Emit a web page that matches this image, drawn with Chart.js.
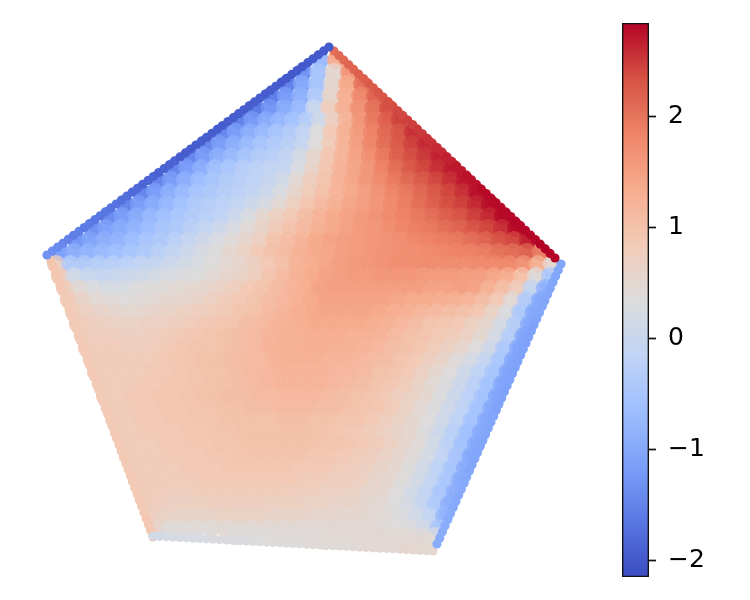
<!DOCTYPE html>
<html>
<head>
<meta charset="utf-8">
<script src="https://cdn.jsdelivr.net/npm/chart.js@4"></script>
<style>
  body { margin: 0; background: #fff; }
  canvas { position: absolute; top: 0; }
</style>
</head>
<body>
<canvas id="field" width="750" height="600" style="left:0"></canvas>
<canvas id="bar" width="150" height="600" style="left:600px"></canvas>
<script>
// rows across the pentagon, x/y are plot units
const rowY = [54.0,52.8,51.6,50.4,49.2,48.0,46.8,45.6,44.4,43.2,42.0,40.8,39.6,38.4,37.2,36.0,34.8,33.6,32.4,31.2,30.0,28.8,27.6,26.4,25.2,24.0,22.8,21.6,20.4,19.2,18.0,16.8,15.6,14.4,13.2,12.0,10.8,9.6,8.4,7.2,6.4,5.9];
const rowLeft = [32.0,30.3,28.7,27.1,25.5,23.9,22.2,20.6,19.0,17.3,15.7,14.1,12.5,10.8,9.2,7.6,6.0,5.6,6.0,6.5,6.9,7.4,7.8,8.3,8.7,9.2,9.6,10.1,10.5,11.0,11.45,11.9,12.4,12.8,13.3,13.7,14.2,14.6,15.1,15.5,23.5,32.5];
const rowRight = [33.6,34.9,36.2,37.5,38.8,40.0,41.3,42.6,43.9,45.2,46.45,47.7,49.0,50.3,51.6,52.8,54.1,55.2,55.0,54.5,54.0,53.4,52.9,52.35,51.8,51.3,50.75,50.2,49.7,49.15,48.6,48.1,47.6,47.05,46.5,46.0,45.45,44.9,44.4,43.85,43.5,42.8];
const rowValues = [
  [-.7,1.3],
  [-1.3,-.5,.5,1.6],
  [-1.5,-1,-.5,.5,1.35,2],
  [-1.55,-1.15,-.85,-.35,.55,1.25,1.75,2.15],
  [-1.6,-1.25,-.95,-.7,0,.75,1.25,1.65,2,2.35],
  [-1.5,-1.2,-.95,-.75,-.55,-.3,.1,.7,1.2,1.6,1.95,2.2,2.45],
  [-1.45,-1.15,-.9,-.7,-.5,-.35,-.1,.35,.85,1.25,1.55,1.85,2.1,2.3,2.55],
  [-1.45,-1.15,-.9,-.7,-.5,-.35,-.25,-.05,.35,.8,1.2,1.5,1.8,2.05,2.25,2.45,2.6],
  [-1.45,-1.15,-.9,-.7,-.5,-.35,-.25,-.1,.2,.55,.9,1.2,1.45,1.7,1.95,2.2,2.35,2.5,2.65],
  [-1.45,-1.15,-.9,-.6,-.45,-.3,-.2,-.1,-.05,.25,.6,.9,1.2,1.4,1.6,1.85,2.05,2.25,2.4,2.55,2.7],
  [-1.45,-1.15,-.9,-.65,-.5,-.35,-.25,-.15,-.05,.15,.45,.75,.95,1.2,1.4,1.6,1.75,1.95,2.1,2.25,2.4,2.55,2.72],
  [-1.45,-1.15,-.9,-.7,-.5,-.4,-.3,-.2,-.1,.05,.25,.55,.8,1,1.2,1.35,1.5,1.65,1.8,1.95,2.1,2.25,2.4,2.55,2.75],
  [-1.45,-1.15,-.95,-.75,-.55,-.4,-.3,-.2,-.1,.05,.2,.45,.7,.9,1.1,1.25,1.4,1.5,1.6,1.75,1.9,2.05,2.2,2.35,2.45,2.6,2.78],
  [-1.4,-1.15,-.95,-.75,-.6,-.45,-.35,-.25,-.15,.05,.25,.5,.7,.85,1.05,1.2,1.35,1.45,1.55,1.65,1.75,1.85,1.95,2.05,2.2,2.3,2.45,2.6,2.8],
  [-1.3,-1.1,-.95,-.8,-.65,-.5,-.4,-.25,-.1,.05,.25,.4,.6,.8,.95,1.1,1.25,1.35,1.45,1.55,1.6,1.7,1.8,1.9,1.95,2.05,2.15,2.3,2.4,2.55,2.8],
  [-1.25,-1.05,-.9,-.8,-.65,-.5,-.4,-.25,-.05,.1,.25,.4,.55,.7,.95,1.05,1.2,1.35,1.45,1.5,1.55,1.6,1.65,1.7,1.8,1.85,1.9,1.95,2.05,2.15,2.3,2.4,2.65],
  [-1.1,-.9,-.8,-.7,-.6,-.5,-.4,-.25,-.1,.05,.2,.35,.5,.65,.85,1,1.1,1.25,1.35,1.4,1.5,1.55,1.6,1.65,1.7,1.7,1.75,1.8,1.85,1.85,1.9,2,2.05,2.15,1.9],
  [.7,-.35,-.35,-.3,-.25,-.2,-.1,-.05,.05,.15,.25,.35,.45,.55,.7,.85,1,1.2,1.3,1.4,1.5,1.55,1.6,1.65,1.7,1.7,1.72,1.72,1.72,1.72,1.75,1.75,1.75,1.65,1.25,.5],
  [.8,.15,0,-.05,0,.05,.1,.2,.25,.3,.35,.45,.55,.65,.75,.95,1.1,1.25,1.35,1.45,1.5,1.55,1.55,1.6,1.6,1.6,1.55,1.55,1.55,1.5,1.5,1.4,1.3,1,.4,-.45],
  [.8,.45,.3,.2,.2,.3,.35,.4,.45,.5,.55,.65,.75,.85,.95,1.1,1.2,1.3,1.45,1.5,1.5,1.5,1.5,1.5,1.5,1.5,1.45,1.45,1.5,1.45,1.25,1.05,.8,-.05,-.85],
  [.8,.6,.45,.4,.35,.4,.45,.5,.55,.6,.7,.8,.85,.95,1.05,1.15,1.25,1.35,1.45,1.45,1.45,1.45,1.45,1.4,1.35,1.35,1.3,1.25,1.2,1.05,.85,.45,-.35,-1],
  [.8,.7,.6,.55,.5,.55,.6,.65,.7,.75,.8,.85,.95,1,1.1,1.2,1.3,1.35,1.4,1.4,1.4,1.4,1.35,1.3,1.25,1.15,1.1,1.05,1,.9,.65,.3,-.4,-1],
  [.8,.75,.7,.65,.65,.7,.7,.75,.8,.85,.9,.95,1.05,1.1,1.2,1.25,1.3,1.35,1.35,1.35,1.35,1.3,1.25,1.15,1.05,.95,.9,.85,.7,.55,.2,-.3,-1],
  [.8,.75,.75,.7,.7,.75,.8,.85,.9,.95,1,1.05,1.1,1.2,1.25,1.25,1.3,1.3,1.3,1.25,1.25,1.2,1.1,1,.95,.85,.8,.7,.5,.2,-.3,-1.05],
  [.8,.8,.8,.75,.75,.8,.85,.9,.95,.95,1,1.05,1.1,1.2,1.25,1.25,1.3,1.3,1.25,1.25,1.2,1.15,1.05,1,.9,.8,.7,.55,.35,.1,-.4,-1.05],
  [.8,.8,.8,.8,.8,.85,.9,.95,1,1,1.05,1.1,1.1,1.2,1.25,1.25,1.25,1.2,1.2,1.15,1.1,1.05,.95,.85,.75,.6,.4,.2,-.05,-.45,-1.05],
  [.8,.8,.8,.8,.85,.85,.9,.95,1,1,1.05,1.1,1.15,1.2,1.2,1.2,1.2,1.15,1.15,1.1,1,.95,.85,.7,.5,.35,.1,-.15,-.5,-1.05],
  [.8,.8,.8,.85,.85,.9,.9,.95,1,1,1.05,1.1,1.15,1.2,1.2,1.2,1.2,1.15,1.1,1.05,.95,.9,.8,.65,.45,.3,.05,-.2,-.55,-1.05],
  [.8,.8,.85,.85,.9,.9,.95,1,1,1.05,1.05,1.1,1.1,1.15,1.15,1.15,1.1,1.05,1,.95,.85,.75,.65,.5,.3,.05,-.2,-.55,-1.05],
  [.8,.8,.85,.85,.9,.9,.95,.95,1,1,1.05,1.05,1.1,1.1,1.1,1.05,1.05,1,.95,.9,.8,.65,.45,.3,.1,-.15,-.55,-1],
  [.8,.8,.85,.85,.9,.9,.95,.95,1,1,1,1,1.05,1.05,1,1,.95,.95,.85,.75,.65,.5,.35,.1,-.15,-.55,-1],
  [.8,.8,.85,.85,.85,.9,.9,.95,.95,1,1,1,1,1,1,.95,.9,.85,.8,.7,.6,.5,.3,.05,-.25,-.6,-1],
  [.8,.8,.8,.85,.85,.9,.9,.95,.95,1,1,1,1,1,.95,.95,.9,.85,.8,.7,.55,.4,.15,-.2,-.55,-1],
  [.8,.8,.8,.85,.85,.85,.9,.9,.95,.95,.95,.95,.95,.9,.9,.85,.8,.75,.65,.55,.4,.2,-.1,-.5,-1],
  [.8,.8,.8,.8,.85,.85,.85,.9,.9,.9,.9,.9,.85,.85,.85,.8,.75,.7,.6,.5,.35,.15,-.15,-.5,-.95],
  [.8,.8,.8,.8,.8,.85,.85,.85,.85,.85,.85,.85,.8,.8,.75,.75,.7,.6,.5,.35,.15,-.1,-.45,-.95],
  [.8,.8,.75,.75,.8,.8,.8,.8,.8,.8,.8,.75,.75,.7,.7,.65,.55,.5,.35,.15,-.1,-.45,-.9],
  [.8,.75,.7,.7,.7,.75,.75,.75,.75,.7,.7,.7,.65,.65,.6,.6,.5,.45,.35,.2,-.05,-.4,-.9],
  [.75,.65,.6,.6,.6,.65,.65,.65,.65,.6,.6,.6,.55,.55,.5,.5,.45,.4,.3,.15,-.1,-.8],
  [.6,.4,.4,.4,.4,.45,.45,.45,.45,.45,.45,.45,.45,.45,.45,.45,.4,.35,.3,.1,-.5],
  [.35,.35,.35,.4,.4,.4,.4,.45,.45,.45,.45,.45,.45,.4,.3],
  [.45,.45,.45,.45,.45,.45,.45,.45]
];

// dots along the five sides
const sideEnds = [
  [[5.1,33.9],[15.3,6.3]],     // lower left
  [[43.3,4.9],[15.3,6.4]],     // bottom
  [[56.1,33.6],[43.7,5.6]],    // lower right
  [[33.4,54.9],[55.5,34.2]],   // upper right
  [[4.7,34.5],[32.9,55.3]]     // upper left
];
const sideValues = [
  [.95,.95,.9,.9,.9,.85,.85,.85,.85,.85,.85,.85,.85,.85,.85,.85,.85,.85,.85,.85,.85,.85,.85,.85,.85,.85,.85,.85,.85,.85,.85,.85,.85,.85,.85,.85,.85,.85,.85,.85,.85,.85,.9,.9,.9,.9],
  [.5,.5,.5,.5,.5,.5,.45,.45,.45,.45,.45,.45,.4,.4,.4,.4,.4,.4,.4,.4,.35,.35,.35,.35,.35,.35,.35,.35,.3,.3,.3,.3,.3,.3,.25,.25,.25,.25,.2,.2,.2,.15,.15],
  [-1.05,-1.05,-1.05,-1.05,-1.05,-1.05,-1.05,-1.05,-1.05,-1.05,-1.1,-1.1,-1.1,-1.1,-1.1,-1.1,-1.1,-1.1,-1.1,-1.1,-1.1,-1.1,-1.1,-1.1,-1.1,-1.05,-1.05,-1.05,-1.05,-1.05,-1.05,-1.05,-1.05,-1.05,-1.05,-1,-1,-1,-1,-1,-1,-.95,-.95,-.95,-.95,-.95,-.95],
  [2.05,2.1,2.1,2.15,2.15,2.2,2.2,2.25,2.25,2.3,2.3,2.35,2.35,2.4,2.4,2.45,2.45,2.5,2.5,2.55,2.55,2.6,2.6,2.65,2.65,2.7,2.7,2.75,2.75,2.75,2.8,2.8,2.8,2.8,2.8,2.8,2.8,2.82,2.82,2.82,2.82,2.82,2.84,2.84,2.84,2.84],
  [-1.3,-1.35,-1.4,-1.45,-1.5,-1.55,-1.55,-1.6,-1.6,-1.65,-1.65,-1.65,-1.7,-1.7,-1.75,-1.75,-1.8,-1.8,-1.85,-1.85,-1.85,-1.9,-1.9,-1.9,-1.9,-1.95,-1.95,-1.95,-1.95,-1.95,-1.95,-1.95,-1.95,-1.95,-1.95,-1.95,-1.95,-1.95,-1.95,-1.95,-1.95,-1.95,-1.95,-1.95,-2,-2,-2,-2,-2,-2,-2,-2,-2,-2]
];

const barMin = -2.153;
const barMax = 2.838;
const barTicks = [-2, -1, 0, 1, 2];
const coolwarm = ['#3b4cc0','#5977e3','#7b9ff9','#9ebeff','#c0d4f5','#dddcdc','#f2cbb7','#f7ac8e','#ee8468','#d65244','#b40426'];

function hexRgb(h) {
  return [1, 3, 5].map(i => parseInt(h.substr(i, 2), 16));
}

function colorOf(v, alpha) {
  let t = (v - barMin) / (barMax - barMin) * 10;
  t = Math.max(0, Math.min(9.999, t));
  const i = Math.floor(t);
  const a = hexRgb(coolwarm[i]), b = hexRgb(coolwarm[i + 1]);
  const c = a.map((p, k) => Math.round(p + (b[k] - p) * (t - i)));
  return 'rgba(' + c.join(',') + ',' + alpha + ')';
}

function spread(from, to, i, n) {
  return n > 1 ? from + (to - from) * i / (n - 1) : from;
}

const rowPoints = [];
rowValues.forEach((vals, r) => {
  vals.forEach((v, i) => {
    rowPoints.push({ x: spread(rowLeft[r], rowRight[r], i, vals.length), y: rowY[r], v: v });
  });
});

const sidePoints = [];
sideValues.forEach((vals, s) => {
  const [p, q] = sideEnds[s];
  vals.forEach((v, i) => {
    sidePoints.push({ x: spread(p[0], q[0], i, vals.length), y: spread(p[1], q[1], i, vals.length), v: v });
  });
});

new Chart(document.getElementById('field').getContext('2d'), {
  type: 'scatter',
  data: {
    datasets: [
      {
        data: sidePoints,
        order: 1,
        pointRadius: 4.6,
        pointBorderWidth: 0,
        pointBackgroundColor: sidePoints.map(p => colorOf(p.v, 1))
      },
      {
        // same rows again, see-through, softens the steps between the big dots
        data: rowPoints,
        order: 2,
        pointRadius: 9,
        pointBorderWidth: 0,
        pointBackgroundColor: rowPoints.map(p => colorOf(p.v, 0.5))
      },
      {
        data: rowPoints,
        order: 3,
        pointRadius: 9,
        pointBorderWidth: 0,
        pointBackgroundColor: rowPoints.map(p => colorOf(p.v, 1))
      }
    ]
  },
  options: {
    responsive: false,
    animation: false,
    layout: { padding: 0, autoPadding: false },
    plugins: { legend: { display: false }, tooltip: { enabled: false } },
    scales: {
      x: { display: false, min: 0, max: 75 },
      y: { display: false, min: 0, max: 60 }
    }
  }
});

new Chart(document.getElementById('bar').getContext('2d'), {
  type: 'bar',
  data: {
    labels: [''],
    datasets: [{
      data: [[barMin, barMax]],
      barPercentage: 1,
      categoryPercentage: 1,
      borderColor: '#111',
      borderWidth: 1.7,
      borderSkipped: false,
      backgroundColor: function (ctx) {
        const area = ctx.chart.chartArea;
        if (!area) return '#ccc';
        const g = ctx.chart.ctx.createLinearGradient(0, area.bottom, 0, area.top);
        coolwarm.forEach((c, i) => g.addColorStop(i / 10, c));
        return g;
      }
    }]
  },
  options: {
    responsive: false,
    animation: false,
    layout: { padding: { left: 22, top: 23, bottom: 23, right: 0 }, autoPadding: false },
    plugins: { legend: { display: false }, tooltip: { enabled: false } },
    scales: {
      x: { display: false },
      y: {
        position: 'right',
        min: barMin,
        max: barMax,
        afterBuildTicks: axis => { axis.ticks = barTicks.map(v => ({ value: v })); },
        afterFit: axis => {
          axis.width = 101;
          // the tick padding also gets added above and below the axis otherwise
          axis.paddingTop = 0;
          axis.paddingBottom = 0;
        },
        border: { display: false },
        grid: { drawOnChartArea: false, drawTicks: true, tickLength: 7, tickWidth: 1.7, tickColor: '#111' },
        ticks: {
          color: '#000',
          padding: 12,
          font: { family: 'DejaVu Sans', size: 25 },
          callback: v => String(v).replace('-', '\u2212')
        }
      }
    }
  }
});
</script>
</body>
</html>
